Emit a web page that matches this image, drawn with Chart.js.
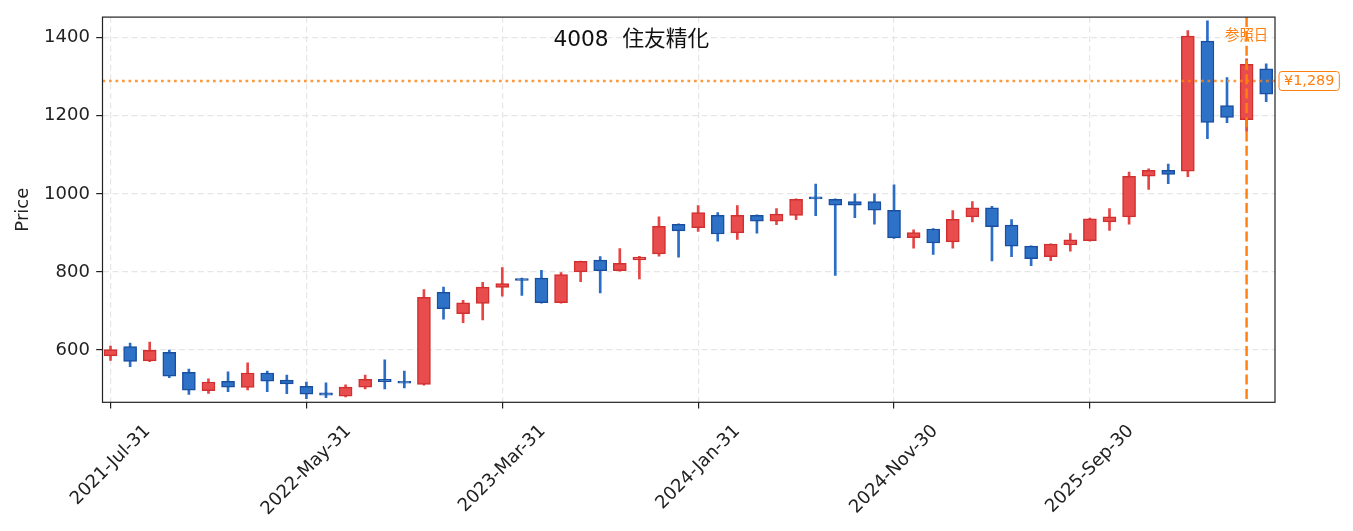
<!DOCTYPE html>
<html lang="ja">
<head>
<meta charset="utf-8">
<title>4008 住友精化</title>
<script src="https://cdn.jsdelivr.net/npm/chart.js@4.4.1/dist/chart.umd.min.js"></script>
<style>
  html, body { margin: 0; padding: 0; background: #fff; }
  #wrap { width: 1353px; height: 531px; }
</style>
</head>
<body>
<div id="wrap"><canvas id="candleChart" width="1353" height="531"></canvas></div>
<script>
// 月足データ（画像から読み取った概算値）
const dates = [
    '2021-Jul-31', '2021-Aug-31', '2021-Sep-30', '2021-Oct-31', '2021-Nov-30', '2021-Dec-31',
    '2022-Jan-31', '2022-Feb-28', '2022-Mar-31', '2022-Apr-30', '2022-May-31', '2022-Jun-30',
    '2022-Jul-31', '2022-Aug-31', '2022-Sep-30', '2022-Oct-31', '2022-Nov-30', '2022-Dec-31',
    '2023-Jan-31', '2023-Feb-28', '2023-Mar-31', '2023-Apr-30', '2023-May-31', '2023-Jun-30',
    '2023-Jul-31', '2023-Aug-31', '2023-Sep-30', '2023-Oct-31', '2023-Nov-30', '2023-Dec-31',
    '2024-Jan-31', '2024-Feb-29', '2024-Mar-31', '2024-Apr-30', '2024-May-31', '2024-Jun-30',
    '2024-Jul-31', '2024-Aug-31', '2024-Sep-30', '2024-Oct-31', '2024-Nov-30', '2024-Dec-31',
    '2025-Jan-31', '2025-Feb-28', '2025-Mar-31', '2025-Apr-30', '2025-May-31', '2025-Jun-30',
    '2025-Jul-31', '2025-Aug-31', '2025-Sep-30', '2025-Oct-31', '2025-Nov-30', '2025-Dec-31',
    '2026-Jan-31', '2026-Feb-28', '2026-Mar-31', '2026-Apr-30', '2026-May-31', '2026-Jun-30'
];
const opens = [
    585, 609, 572, 594, 543, 496, 520, 504, 541, 523, 507, 490,
    482, 505, 525, 520, 512, 748, 693, 719, 760, 783, 784, 721,
    800, 830, 803, 831, 846, 922, 913, 945, 900, 945, 930, 945,
    992, 986, 980, 980, 958, 888, 910, 877, 941, 964, 920, 866,
    839, 869, 880, 928, 941, 1045, 1060, 1058, 1391, 1226, 1190, 1320
];
const highs = [
    610, 618, 620, 600, 551, 526, 544, 567, 546, 536, 518, 516,
    511, 536, 575, 546, 755, 761, 727, 773, 811, 784, 804, 798,
    828, 839, 860, 840, 941, 923, 970, 952, 970, 946, 962, 987,
    1025, 987, 1000, 1000, 1023, 908, 911, 957, 980, 968, 934, 867,
    872, 898, 938, 962, 1056, 1064, 1076, 1418, 1443, 1298, 1346, 1333
];
const lows = [
    573, 557, 570, 529, 486, 489, 493, 498, 493, 488, 475, 478,
    480, 500, 500, 503, 510, 679, 670, 677, 738, 740, 720, 720,
    775, 746, 802, 782, 840, 838, 904, 879, 883, 899, 921, 934,
    944, 791, 939, 922, 886, 861, 845, 861, 928, 828, 839, 816,
    829, 853, 879, 906, 922, 1011, 1026, 1044, 1141, 1182, 1160, 1236
];
const closes = [
    601, 571, 599, 533, 497, 518, 505, 541, 520, 513, 487, 484,
    505, 525, 519, 515, 735, 706, 721, 761, 770, 778, 721, 793,
    827, 803, 822, 838, 917, 905, 952, 897, 945, 930, 948, 986,
    987, 971, 971, 958, 887, 901, 874, 935, 964, 916, 866, 834,
    871, 882, 936, 941, 1045, 1060, 1050, 1404, 1183, 1196, 1332, 1255
];

// 目盛り
const xTickIdx = [0, 10, 20, 30, 40, 50];
const yTicks = [600, 800, 1000, 1200, 1400];

// 参照日・参照価格
const refIdx = 58;
const refPrice = 1289;
const chartTitle = '4008  住友精化';

const FONT = '"DejaVu Sans", "Noto Sans CJK JP", sans-serif';
const ORANGE = '#ff7f0e';

// 陽線=赤、陰線=青
const isUp = opens.map((o, i) => closes[i] >= o);
const bodyFill = isUp.map(u => u ? '#e84c4c' : '#2e72c8');
const bodyEdge = isUp.map(u => u ? '#d0302f' : '#1a4fa0');
const wickColor = isUp.map(u => u ? '#e64545' : '#2a6cc6');

const bodyData = dates.map((d, i) => ({ x: i, y: [Math.min(opens[i], closes[i]), Math.max(opens[i], closes[i])] }));
const wickData = dates.map((d, i) => ({ x: i, y: [lows[i], highs[i]] }));

// 枠線・参照線・ラベル類
const overlayPlugin = {
    id: 'overlay',
    afterDraw(chart) {
        const { ctx, chartArea: a, scales: { x, y } } = chart;
        ctx.save();

        // 参照価格（点線）
        const py = y.getPixelForValue(refPrice);
        ctx.strokeStyle = ORANGE;
        ctx.globalAlpha = 0.8;
        ctx.lineWidth = 2.7;
        ctx.setLineDash([2.7, 3.8]);
        ctx.beginPath();
        ctx.moveTo(a.left, py);
        ctx.lineTo(a.right, py);
        ctx.stroke();
        ctx.globalAlpha = 1;

        // 参照日（破線）
        const rx = x.getPixelForValue(refIdx);
        ctx.lineWidth = 2.4;
        ctx.setLineDash([10, 4.3]);
        ctx.beginPath();
        ctx.moveTo(rx, a.top);
        ctx.lineTo(rx, a.bottom);
        ctx.stroke();
        ctx.setLineDash([]);

        // 枠
        ctx.strokeStyle = '#222';
        ctx.lineWidth = 1.2;
        ctx.strokeRect(a.left, a.top, a.right - a.left, a.bottom - a.top);

        // タイトル
        ctx.fillStyle = '#111';
        ctx.font = '21.7px ' + FONT;
        ctx.textAlign = 'center';
        ctx.textBaseline = 'middle';
        ctx.fillText(chartTitle, a.left + 0.451 * (a.right - a.left), 40);

        // 参照日ラベル
        ctx.fillStyle = ORANGE;
        ctx.font = '14.4px "Noto Sans CJK JP", sans-serif';
        ctx.fillText('参照日', rx, 34.5);

        // 価格ラベル
        const priceText = '¥' + refPrice.toLocaleString('en-US');
        ctx.font = '14.4px ' + FONT;
        const tw = ctx.measureText(priceText).width;
        const bx = a.right + 4, bw = tw + 10, bh = 19;
        ctx.beginPath();
        ctx.roundRect(bx, py - bh / 2, bw, bh, 3);
        ctx.fillStyle = '#fff';
        ctx.fill();
        ctx.strokeStyle = ORANGE;
        ctx.lineWidth = 1;
        ctx.stroke();
        ctx.fillStyle = ORANGE;
        ctx.textAlign = 'left';
        ctx.fillText(priceText, bx + 5, py + 0.5);

        // X軸ラベル（45°回転、中央揃え）
        ctx.fillStyle = '#222';
        ctx.font = '18px ' + FONT;
        ctx.textAlign = 'center';
        xTickIdx.forEach(v => {
            const label = dates[v];
            const w = ctx.measureText(label).width;
            ctx.save();
            ctx.translate(x.getPixelForValue(v), a.bottom + 8 + 0.3536 * w + 18);
            ctx.rotate(-Math.PI / 4);
            ctx.fillText(label, 0, 0);
            ctx.restore();
        });

        ctx.restore();
    }
};

const candleConfig = {
    type: 'bar',
    data: {
        datasets: [
            {
                label: 'body',
                data: bodyData,
                backgroundColor: bodyFill,
                borderColor: bodyEdge,
                borderWidth: 1.5,
                borderSkipped: false,
                barThickness: 13,
                grouped: false,
                order: 0
            },
            {
                label: 'wick',
                data: wickData,
                backgroundColor: wickColor,
                borderWidth: 0,
                barThickness: 2,
                grouped: false,
                order: 1
            }
        ]
    },
    options: {
        responsive: false,
        animation: false,
        devicePixelRatio: 1,
        layout: { padding: { top: 15, right: 78, left: 0, bottom: 0 } },
        plugins: {
            legend: { display: false },
            tooltip: { enabled: false }
        },
        scales: {
            x: {
                type: 'linear',
                min: -0.41,
                max: 59.45,
                offset: false,
                afterBuildTicks: s => { s.ticks = xTickIdx.map(v => ({ value: v })); },
                afterFit: s => { s.height = 128.7; },
                ticks: { display: false },
                grid: {
                    offset: false,
                    color: '#e6e6e6',
                    lineWidth: 1.2,
                    tickLength: 6.3,
                    tickColor: '#222',
                    tickWidth: 1.2
                },
                border: { display: false, dash: [6, 3.5] }
            },
            y: {
                type: 'linear',
                min: 466,
                max: 1452.7,
                afterBuildTicks: s => { s.ticks = yTicks.map(v => ({ value: v })); },
                afterFit: s => { s.width = 102.5; },
                ticks: {
                    font: { family: FONT, size: 18 },
                    color: '#222',
                    padding: 6.3,
                    callback: v => String(v)
                },
                title: {
                    display: true,
                    text: 'Price',
                    font: { family: FONT, size: 18 },
                    color: '#222',
                    padding: { top: 13, bottom: 0 }
                },
                grid: {
                    color: '#e6e6e6',
                    lineWidth: 1.2,
                    tickLength: 6.3,
                    tickColor: '#222',
                    tickWidth: 1.2
                },
                border: { display: false, dash: [6, 3.5] }
            }
        }
    },
    plugins: [overlayPlugin]
};

const candleCtx = document.getElementById('candleChart').getContext('2d');
new Chart(candleCtx, candleConfig);
</script>
</body>
</html>
